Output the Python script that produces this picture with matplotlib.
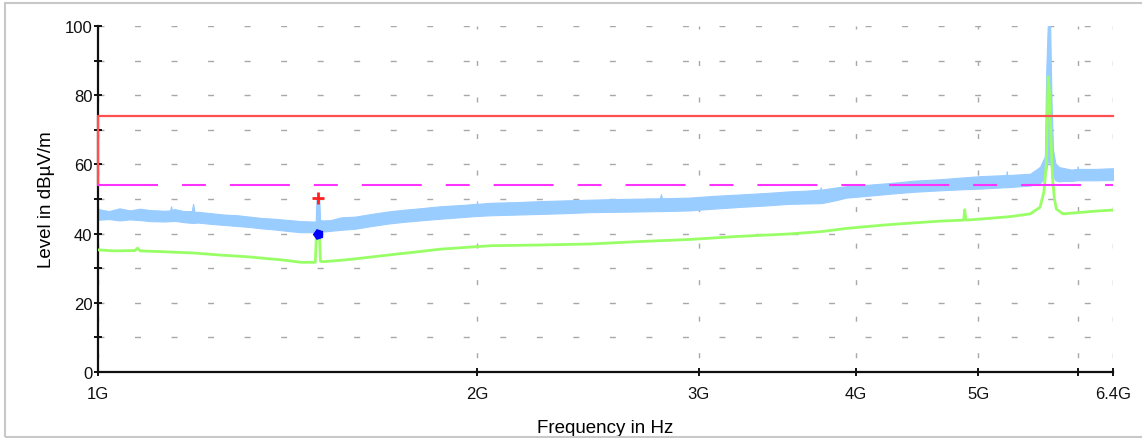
import numpy as np
import matplotlib
matplotlib.use("Agg")
import matplotlib.pyplot as plt
from matplotlib.ticker import FixedLocator, NullLocator, MultipleLocator
from matplotlib.patches import Rectangle

plt.rcParams['font.family'] = ['Liberation Sans', 'DejaVu Sans']

# peak trace (blue), read as an envelope: freq in GHz, upper / lower level in dBuV/m
pk_freq = [1.000, 1.02, 1.04, 1.06, 1.08, 1.10, 1.13, 1.141, 1.143, 1.145,
           1.15, 1.17, 1.187, 1.190, 1.193, 1.20, 1.23, 1.26, 1.29, 1.32,
           1.35, 1.38, 1.42, 1.45, 1.48, 1.489, 1.491, 1.499, 1.501, 1.51,
           1.53, 1.56, 1.60, 1.65, 1.70, 1.75, 1.80, 1.87, 1.95, 1.998,
           2.000, 2.002, 2.05, 2.15, 2.25, 2.35, 2.46, 2.58, 2.69, 2.795,
           2.800, 2.805, 2.95, 3.08, 3.23, 3.38, 3.54, 3.65, 3.745, 3.750,
           3.755, 3.85, 3.93, 4.05, 4.25, 4.45, 4.66, 4.85, 5.02, 5.25,
           5.265, 5.270, 5.275, 5.50, 5.60, 5.65, 5.665, 5.68, 5.705, 5.72,
           5.735, 5.76, 5.80, 5.84, 5.93, 5.995, 6.000, 6.005, 6.20, 6.40]
pk_upper = [47.1, 46.5, 47.3, 46.7, 47.2, 46.8, 46.6, 46.7, 47.9, 46.8,
            47.1, 46.5, 46.5, 48.6, 46.3, 46.3, 45.9, 45.5, 45.3, 44.9,
            44.5, 44.3, 43.9, 43.6, 43.5, 43.5, 50.0, 50.0, 43.9, 43.8,
            43.9, 44.7, 44.9, 45.7, 46.4, 46.9, 47.3, 47.9, 48.3, 48.6,
            49.4, 48.6, 48.9, 49.1, 49.4, 49.6, 49.8, 50.0, 50.1, 50.2,
            51.4, 50.2, 50.4, 50.9, 51.3, 51.7, 52.2, 52.4, 52.7, 53.4,
            52.7, 53.3, 53.7, 54.0, 54.6, 55.3, 55.7, 56.2, 56.6, 56.9,
            56.9, 58.0, 56.9, 57.3, 59.3, 62.3, 87.6, 100.0, 100.0, 77.5,
            64.3, 60.3, 59.2, 59.0, 58.5, 58.7, 59.4, 58.7, 58.7, 58.9]
pk_lower = [44.0, 44.2, 43.8, 44.1, 43.9, 43.6, 43.5, 43.6, 43.6, 43.6,
            43.7, 43.3, 43.1, 43.1, 43.1, 43.2, 42.8, 42.5, 42.2, 41.9,
            41.5, 41.2, 40.7, 40.4, 40.4, 40.4, 40.2, 40.2, 40.6, 40.6,
            40.8, 41.1, 41.4, 42.2, 42.9, 43.4, 43.8, 44.3, 44.8, 45.1,
            45.1, 45.1, 45.3, 45.5, 45.7, 45.9, 46.2, 46.3, 46.4, 46.5,
            46.5, 46.5, 46.7, 47.2, 47.7, 48.1, 48.6, 48.7, 48.8, 48.8,
            48.8, 49.6, 50.4, 50.8, 51.5, 52.1, 52.5, 52.8, 53.0, 53.4,
            53.4, 53.4, 53.4, 53.9, 54.6, 56.1, 58.6, 60.6, 60.6, 58.6,
            56.6, 55.4, 55.1, 55.2, 55.2, 55.4, 55.4, 55.4, 55.4, 55.5]

# average trace (green)
av_freq = [1.000, 1.03, 1.07, 1.075, 1.08, 1.12, 1.19, 1.25, 1.315, 1.36, 1.40,
           1.45, 1.488, 1.491, 1.499, 1.502, 1.509, 1.55, 1.60, 1.70,
           1.80, 1.87, 2.05, 2.24, 2.46, 2.69, 2.95, 3.23, 3.54, 3.76, 3.93,
           4.25, 4.66, 4.87, 4.88, 4.89, 5.02, 5.30, 5.50, 5.60, 5.64, 5.665,
           5.685, 5.70, 5.715, 5.73, 5.75, 5.77, 5.84, 6.02, 6.20, 6.40]
av_level = [35.3, 35.0, 35.1, 35.8, 35.0, 34.8, 34.4, 33.8, 33.3, 32.8, 32.4,
            31.7, 31.7, 40.0, 40.0, 32.0, 31.9, 32.2, 32.7, 33.8,
            34.8, 35.5, 36.5, 36.7, 37.0, 37.7, 38.3, 39.2, 39.9, 40.6, 41.5,
            42.6, 43.6, 43.9, 46.9, 43.9, 44.2, 44.9, 45.7, 47.6, 52.0, 60.0,
            85.3, 80.0, 66.5, 56.0, 50.0, 47.1, 45.7, 46.1, 46.5, 46.8]

# limit lines
pk_limit_freq = [1.0, 1.0, 6.4]
pk_limit_level = [54, 74, 74]
av_limit_freq = [1.0, 6.4]
av_limit_level = [54, 54]

# markers
mark_freq = 1.495
mark_pk = 50.3
mark_av = 40.0

xtick_vals = [1, 2, 3, 4, 5, 6, 6.4]
xtick_labels = ['1G', '2G', '3G', '4G', '5G', '', '6.4G']

fig = plt.figure(figsize=(11.42, 4.39), dpi=100)
ax = fig.add_axes([98 / 1142, 66 / 439, 1015 / 1142, 346 / 439])

ax.fill_between(pk_freq, pk_lower, pk_upper, color='#99CCFF', lw=0.8,
                edgecolor='#99CCFF', zorder=2)
ax.plot(av_freq, av_level, color='#99FF66', lw=2.0, zorder=3)

ax.plot(pk_limit_freq, pk_limit_level, color='#FF5050', lw=1.6, zorder=4,
        clip_on=False)
ax.plot(av_limit_freq, av_limit_level, color='#FF33FF', lw=1.5, zorder=4,
        linestyle=(0, (28.8, 11.5, 11.5, 11.5)))

ax.plot([mark_freq], [mark_pk], marker='+', color='#FF2020', ms=8, mew=2,
        ls='none', zorder=5)
ax.plot([mark_freq], [mark_av], marker=(5, 0, 90), color='#0000FF', ms=7,
        ls='none', zorder=5)

ax.set_xscale('log')
ax.set_xlim(1, 6.4)
ax.set_ylim(0, 100)
ax.xaxis.set_major_locator(FixedLocator(xtick_vals))
ax.xaxis.set_minor_locator(NullLocator())
ax.set_xticklabels(xtick_labels)
ax.yaxis.set_major_locator(MultipleLocator(20))
ax.yaxis.set_minor_locator(MultipleLocator(10))

ax.yaxis.grid(True, which='both', color='#A8A8A8', lw=1.0,
              linestyle=(0, (4.3, 22.0)), zorder=0)
ax.xaxis.grid(True, which='major', color='#A8A8A8', lw=1.0,
              linestyle=(16, (3.6, 22.7)), zorder=0)
ax.set_axisbelow(True)

for s in ['top', 'right']:
    ax.spines[s].set_visible(False)
for s in ['left', 'bottom']:
    ax.spines[s].set_linewidth(1.6)
    ax.spines[s].set_color('#101010')

ax.tick_params(axis='both', which='both', direction='inout', length=6,
               width=1.4, colors='#101010', labelsize=12)
ax.tick_params(axis='y', pad=1)
ax.tick_params(axis='x', pad=7)

ax.set_xlabel('Frequency in Hz', fontsize=13.5, labelpad=13)
ax.set_ylabel('Level in dBµV/m', fontsize=13.5, labelpad=7)

fig.patches.append(Rectangle((5 / 1142, 1 / 439), 1.1, 434 / 439,
                             transform=fig.transFigure, fill=False,
                             edgecolor='#C8C8C8', lw=1.5))

fig.savefig('out.png', dpi=100)
